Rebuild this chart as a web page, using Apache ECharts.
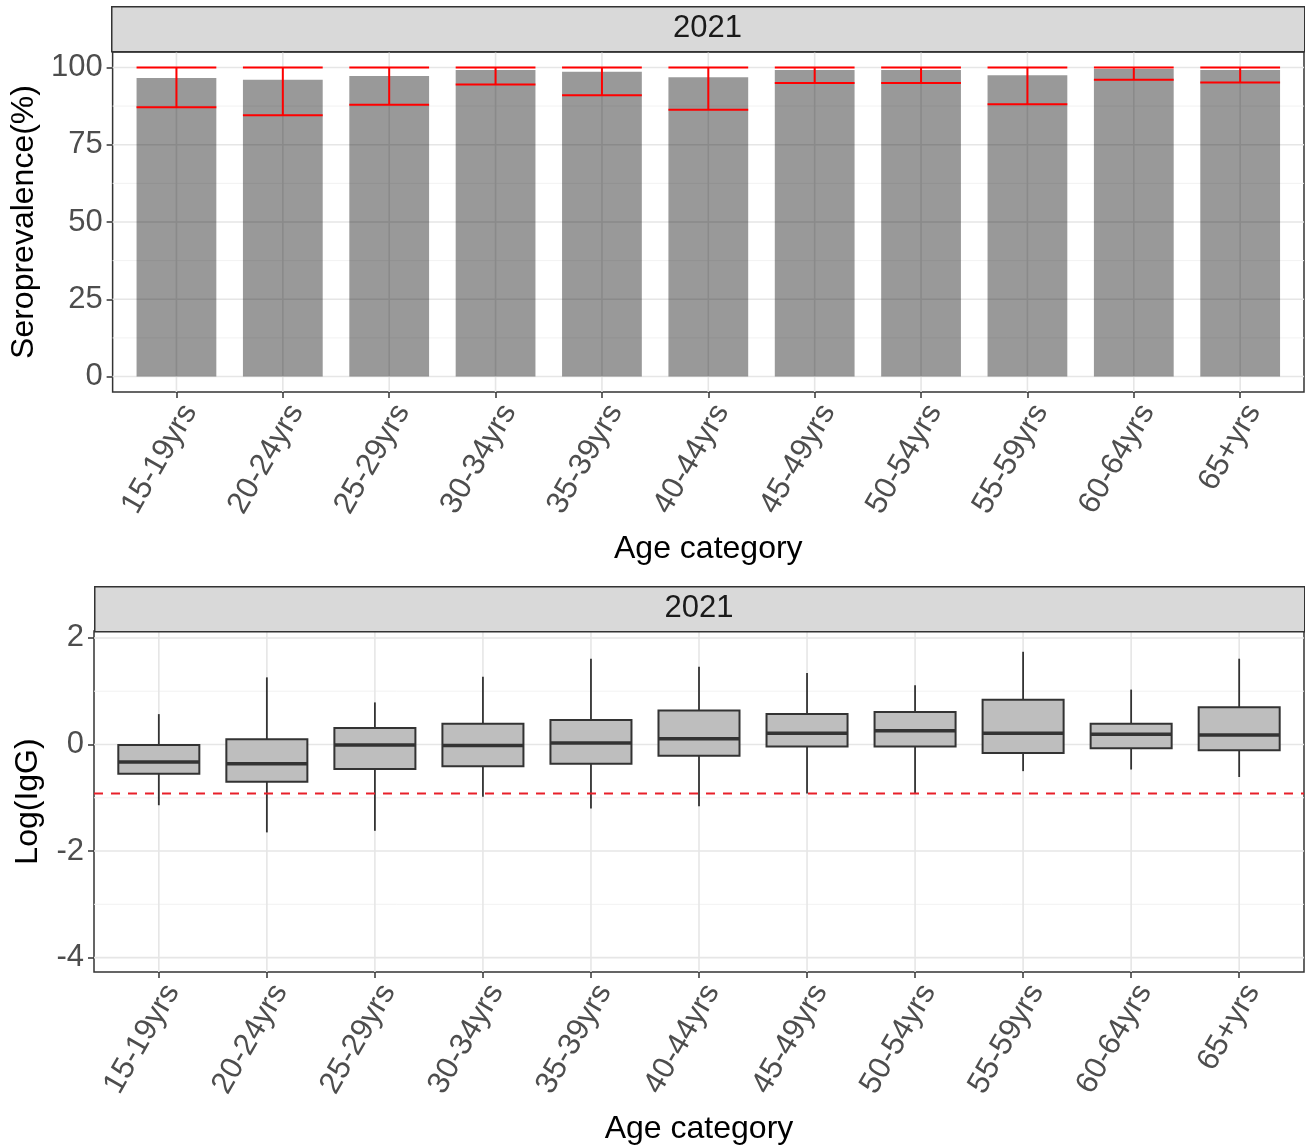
<!DOCTYPE html>
<html>
<head>
<meta charset="utf-8">
<script src="https://cdn.jsdelivr.net/npm/echarts@6/dist/echarts.min.js"></script>
<style>
  html, body { margin: 0; padding: 0; background: #fff; }
  #chart { width: 1305px; height: 1147px; }
</style>
</head>
<body>
<div id="chart"></div>
<script>
// Age groups shared by both panels
const ageGroups = ['15-19yrs', '20-24yrs', '25-29yrs', '30-34yrs', '35-39yrs', '40-44yrs',
                   '45-49yrs', '50-54yrs', '55-59yrs', '60-64yrs', '65+yrs'];

// Panel 1: seroprevalence (%) with 95% CI
const seroprevalence = [96.6, 96.0, 97.2, 99.2, 98.6, 96.8, 99.2, 99.2, 97.5, 99.5, 99.2];
const ciLower        = [87.1, 84.5, 87.9, 94.5, 91.0, 86.3, 95.0, 95.0, 88.1, 96.0, 95.1];
const ciUpper        = [100, 100, 100, 100, 100, 100, 100, 100, 100, 100, 100];

// Panel 2: log(IgG) distribution per age group
const whiskerLow  = [-1.14, -1.65, -1.62, -0.98, -1.20, -1.16, -0.92, -0.92, -0.50, -0.47, -0.61];
const q1          = [-0.55, -0.70, -0.46, -0.41, -0.36, -0.21, -0.04, -0.04, -0.16, -0.07, -0.11];
const medianVals  = [-0.33, -0.36, -0.01, -0.02,  0.03,  0.11,  0.21,  0.26,  0.21,  0.19,  0.18];
const q3          = [-0.01,  0.10,  0.31,  0.39,  0.46,  0.64,  0.57,  0.61,  0.84,  0.39,  0.70];
const whiskerHigh = [ 0.57,  1.26,  0.79,  1.27,  1.61,  1.46,  1.34,  1.11,  1.74,  1.03,  1.61];
const cutoff = -0.92;

// Tick / gridline values
const seroTicks      = [0, 25, 50, 75, 100];
const seroMinorTicks = [12.5, 37.5, 62.5, 87.5];
const iggTicks       = [-4, -2, 0, 2];
const iggMinorTicks  = [-3, -1, 1];
const facetLabel = '2021';

const FONT = "'Liberation Sans', Arial, sans-serif";
const catIdx = ageGroups.map((_, i) => i);
const HALF = 0.375;   // half of bar / box width in category units

const G1 = { left: 111, top: 52, width: 1193, height: 340 };
const G2 = { left: 94, top: 631, width: 1210, height: 341 };
const STRIP_H = 45;

function xAxisFor(gridIndex) {
  return {
    type: 'value', gridIndex, min: -0.6, max: 10.6,
    axisLine: { show: false, onZero: false }, splitLine: { show: false },
    axisTick: { show: true, length: 6, customValues: catIdx, lineStyle: { color: '#333', width: 1.5 } },
    axisLabel: {
      customValues: catIdx, formatter: v => ageGroups[Math.round(v)] || '',
      rotate: 60, margin: 7, verticalAlign: 'top',
      fontSize: 31, color: '#4D4D4D', fontFamily: FONT
    },
    name: 'Age category', nameLocation: 'middle', nameGap: 141,
    nameTextStyle: { fontSize: 32, color: '#000', fontFamily: FONT }
  };
}

function yAxisFor(gridIndex, min, max, ticks, name, gap) {
  return {
    type: 'value', gridIndex, min, max,
    axisLine: { show: false, onZero: false }, splitLine: { show: false },
    axisTick: { show: true, length: 6, customValues: ticks, lineStyle: { color: '#333', width: 1.5 } },
    axisLabel: { customValues: ticks, margin: 10, fontSize: 31, color: '#4D4D4D', fontFamily: FONT },
    name, nameLocation: 'middle', nameGap: gap,
    nameTextStyle: { fontSize: 32, color: '#000', fontFamily: FONT }
  };
}

// Gridline items: [kind, value]; kind 0 = major horizontal, 1 = minor horizontal, 2 = vertical
function gridItems(major, minor) {
  return major.map(v => [0, v]).concat(minor.map(v => [1, v])).concat(catIdx.map(i => [2, i]));
}

function gridRender(params, api) {
  const cs = params.coordSys;
  const kind = api.value(0), v = api.value(1);
  let shape;
  if (kind === 2) {
    const x = api.coord([v, 0])[0];
    shape = { x1: x, y1: cs.y, x2: x, y2: cs.y + cs.height };
  } else {
    const y = api.coord([0, v])[1];
    shape = { x1: cs.x, y1: y, x2: cs.x + cs.width, y2: y };
  }
  return {
    type: 'line', shape,
    style: { stroke: kind === 1 ? '#F2F2F2' : '#E6E6E6', lineWidth: kind === 1 ? 1 : 1.6 }
  };
}

function gridSeries(xi, yi, major, minor) {
  return {
    type: 'custom', xAxisIndex: xi, yAxisIndex: yi, z: 1, silent: true,
    encode: { x: -1, y: -1 },
    data: gridItems(major, minor), renderItem: gridRender
  };
}

const barData = catIdx.map(i => [i, seroprevalence[i], ciLower[i], ciUpper[i]]);
const boxData = catIdx.map(i => [i, whiskerLow[i], q1[i], medianVals[i], q3[i], whiskerHigh[i]]);

const option = {
  animation: false,
  backgroundColor: '#fff',
  textStyle: { fontFamily: FONT },
  grid: [
    Object.assign({ show: true, borderColor: '#333', borderWidth: 1.5, backgroundColor: 'transparent', containLabel: false }, G1),
    Object.assign({ show: true, borderColor: '#333', borderWidth: 1.5, backgroundColor: 'transparent', containLabel: false }, G2)
  ],
  xAxis: [xAxisFor(0), xAxisFor(1)],
  yAxis: [
    yAxisFor(0, -5, 105, seroTicks, 'Seroprevalence(%)', 66),
    yAxisFor(1, -4.27, 2.13, iggTicks, 'Log(IgG)', 50)
  ],
  graphic: [
    { type: 'rect', left: G1.left, top: G1.top - STRIP_H - 1, z: 10,
      shape: { width: G1.width, height: STRIP_H }, style: { fill: '#D9D9D9', stroke: '#333', lineWidth: 1.5 } },
    { type: 'text', x: G1.left + G1.width / 2, y: G1.top - STRIP_H / 2 - 1, z: 11,
      style: { text: facetLabel, align: 'center', verticalAlign: 'middle', fontSize: 31, fill: '#1A1A1A', fontFamily: FONT } },
    { type: 'rect', left: G2.left, top: G2.top - STRIP_H, z: 10,
      shape: { width: G2.width, height: STRIP_H }, style: { fill: '#D9D9D9', stroke: '#333', lineWidth: 1.5 } },
    { type: 'text', x: G2.left + G2.width / 2, y: G2.top - STRIP_H / 2, z: 11,
      style: { text: facetLabel, align: 'center', verticalAlign: 'middle', fontSize: 31, fill: '#1A1A1A', fontFamily: FONT } }
  ],
  series: [
    gridSeries(0, 0, seroTicks, seroMinorTicks),
    gridSeries(1, 1, iggTicks, iggMinorTicks),
    {
      // seroprevalence bars with CI error bars
      type: 'custom', xAxisIndex: 0, yAxisIndex: 0, z: 2,
      encode: { x: 0, y: [1, 2, 3] },
      data: barData,
      renderItem(params, api) {
        const i = api.value(0), v = api.value(1), lo = api.value(2), hi = api.value(3);
        const a = api.coord([i - HALF, v]);
        const b = api.coord([i + HALF, 0]);
        const pLo = api.coord([i, lo]), pHi = api.coord([i, hi]);
        const red = { stroke: '#FF0000', lineWidth: 2 };
        return {
          type: 'group',
          children: [
            { type: 'rect', shape: { x: a[0], y: a[1], width: b[0] - a[0], height: b[1] - a[1] },
              style: { fill: 'rgba(0,0,0,0.4)' } },
            { type: 'line', shape: { x1: pLo[0], y1: pLo[1], x2: pHi[0], y2: pHi[1] }, style: red },
            { type: 'line', shape: { x1: a[0], y1: pLo[1], x2: b[0], y2: pLo[1] }, style: red },
            { type: 'line', shape: { x1: a[0], y1: pHi[1], x2: b[0], y2: pHi[1] }, style: red }
          ]
        };
      }
    },
    {
      // log(IgG) boxplots
      type: 'custom', xAxisIndex: 1, yAxisIndex: 1, z: 2,
      encode: { x: 0, y: [1, 2, 3, 4, 5] },
      data: boxData,
      renderItem(params, api) {
        const i = api.value(0);
        const wl = api.coord([i, api.value(1)]);
        const b1 = api.coord([i - HALF, api.value(2)]);
        const md = api.coord([i, api.value(3)]);
        const b3 = api.coord([i + HALF, api.value(4)]);
        const wh = api.coord([i, api.value(5)]);
        const ln = { stroke: '#333', lineWidth: 1.8 };
        return {
          type: 'group',
          children: [
            { type: 'line', shape: { x1: wh[0], y1: wh[1], x2: wh[0], y2: b3[1] }, style: ln },
            { type: 'line', shape: { x1: wl[0], y1: b1[1], x2: wl[0], y2: wl[1] }, style: ln },
            { type: 'rect', shape: { x: b1[0], y: b3[1], width: b3[0] - b1[0], height: b1[1] - b3[1] },
              style: { fill: '#BEBEBE', stroke: '#333', lineWidth: 2 } },
            { type: 'line', shape: { x1: b1[0], y1: md[1], x2: b3[0], y2: md[1] },
              style: { stroke: '#333', lineWidth: 3.5 } }
          ]
        };
      }
    },
    {
      // detection cut-off
      type: 'custom', xAxisIndex: 1, yAxisIndex: 1, z: 3, silent: true,
      encode: { x: -1, y: 0 },
      data: [[cutoff]],
      renderItem(params, api) {
        const cs = params.coordSys;
        const y = api.coord([0, api.value(0)])[1];
        return { type: 'line', shape: { x1: cs.x, y1: y, x2: cs.x + cs.width, y2: y },
                 style: { stroke: '#E8202A', lineWidth: 2, lineDash: [9, 8] } };
      }
    }
  ]
};

const chart = echarts.init(document.getElementById('chart'), null, { renderer: 'canvas' });
chart.setOption(option);
</script>
</body>
</html>
